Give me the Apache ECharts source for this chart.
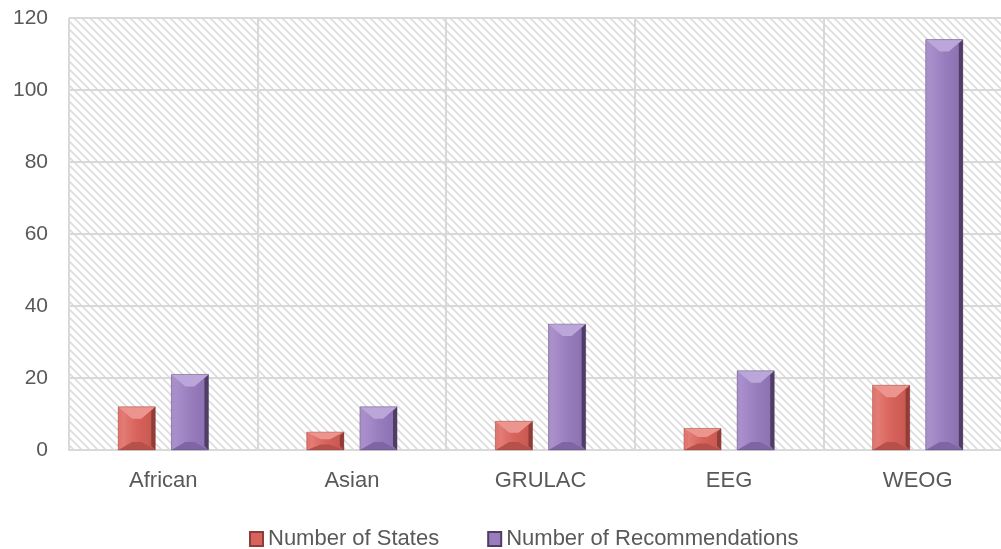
<!DOCTYPE html>
<html><head><meta charset="utf-8">
<script src="https://cdn.jsdelivr.net/npm/echarts@6/dist/echarts.min.js"></script>
<style>html,body{margin:0;padding:0;background:#fff}#c{width:1001px;height:549px}</style>
</head><body><div id="c"></div>
<script>
const categories = ['African', 'Asian', 'GRULAC', 'EEG', 'WEOG'];
const numberOfStates = [12, 5, 8, 6, 18];
const numberOfRecommendations = [21, 12, 35, 22, 114];
const seriesNames = ['Number of States', 'Number of Recommendations'];

function hatch() {
  const c = document.createElement('canvas');
  c.width = 8; c.height = 8;
  const g = c.getContext('2d');
  g.fillStyle = '#ffffff'; g.fillRect(0, 0, 8, 8);
  g.strokeStyle = '#dcdcdc'; g.lineWidth = 1.6;
  g.beginPath();
  g.moveTo(-2, -2); g.lineTo(10, 10);
  g.moveTo(-6, 2); g.lineTo(6, 14);
  g.moveTo(2, -6); g.lineTo(14, 6);
  g.stroke();
  return c;
}

const palettes = [
  {base: '#d7635c', light: '#e7857e', top: '#ec958e', left: '#e0766f', right: '#8f3d39', bottom: '#b5504a', dark: '#c4574f'},
  {base: '#997ebe', light: '#ad95cf', top: '#bba6d9', left: '#a88fca', right: '#4f3d64', bottom: '#8065a5', dark: '#8a6fb0'}
];

function bevelRenderer(seriesIdx) {
  const sign = seriesIdx === 0 ? -1 : 1;
  const p = palettes[seriesIdx];
  return function (params, api) {
    const cat = api.value(0), val = api.value(1);
    const band = api.size([1, 0])[0];
    const top = api.coord([cat, val]);
    const base = api.coord([cat, 0]);
    const bw = band * 37 / 188;
    const cx = top[0] + sign * band * 26.5 / 188;
    const x0 = cx - bw / 2, x1 = cx + bw / 2, y0 = top[1], y1 = base[1];
    const h = y1 - y0;
    const by = Math.min(12, h * 0.4), bx = Math.min(14, bw * 0.38);
    const bb = Math.min(8, h * 0.3);
    const s = 4;
    const fill = new echarts.graphic.LinearGradient(0, 0, 1, 0, [
      {offset: 0, color: p.light}, {offset: 0.5, color: p.base}, {offset: 1, color: p.dark}]);
    return {
      type: 'group',
      children: [
        {type: 'rect', shape: {x: x0, y: y0, width: bw, height: h}, style: {fill: fill}},
        {type: 'polygon', shape: {points: [[x0, y0], [x0 + s, y0 + s], [x0 + s, y1 - s], [x0, y1]]}, style: {fill: p.left}},
        {type: 'polygon', shape: {points: [[x1, y0], [x1 - s, y0 + s], [x1 - s, y1 - s], [x1, y1]]}, style: {fill: p.right}},
        {type: 'polygon', shape: {points: [[x0, y0], [x1, y0], [x1 - bx, y0 + by], [x0 + bx, y0 + by]]}, style: {fill: p.top}},
        {type: 'polygon', shape: {points: [[x0, y1], [x1, y1], [x1 - bx, y1 - bb], [x0 + bx, y1 - bb]]}, style: {fill: p.bottom}},
        {type: 'rect', shape: {x: x0, y: y0, width: bw, height: h}, style: {fill: 'none', stroke: p.right, lineWidth: 0.6, opacity: 0.6}}
      ]
    };
  };
}

const font = 'Liberation Sans';
const chart = echarts.init(document.getElementById('c'));
chart.setOption({
  animation: false,
  textStyle: {fontFamily: font},
  grid: {left: 69, top: 18, right: -11, bottom: 99, show: true, borderWidth: 0, outerBoundsMode: 'none',
         backgroundColor: {image: hatch(), repeat: 'repeat'}},
  legend: {bottom: -6, left: 244, itemWidth: 13, itemHeight: 14, itemGap: 48, icon: 'rect',
           textStyle: {fontSize: 22, color: '#595959', fontFamily: font}},
  xAxis: {type: 'category', data: categories,
    axisLine: {lineStyle: {color: '#d9d9d9', width: 2}}, axisTick: {show: false},
    axisLabel: {fontSize: 22, color: '#595959', margin: 20},
    splitLine: {show: true, lineStyle: {color: '#d9d9d9', width: 2}}},
  yAxis: {type: 'value', min: 0, max: 120, interval: 20,
    axisLine: {show: false}, axisTick: {show: false},
    axisLabel: {fontSize: 21, color: '#595959', margin: 21},
    splitLine: {lineStyle: {color: '#d9d9d9', width: 2}}},
  series: [
    {name: seriesNames[0], type: 'custom', renderItem: bevelRenderer(0), encode: {x: 0, y: 1},
     itemStyle: {color: '#d7635c', borderColor: '#8f3d39', borderWidth: 1},
     data: numberOfStates.map((v, i) => [i, v])},
    {name: seriesNames[1], type: 'custom', renderItem: bevelRenderer(1), encode: {x: 0, y: 1},
     itemStyle: {color: '#997ebe', borderColor: '#4f3d64', borderWidth: 1},
     data: numberOfRecommendations.map((v, i) => [i, v])}
  ]
});
</script></body></html>
